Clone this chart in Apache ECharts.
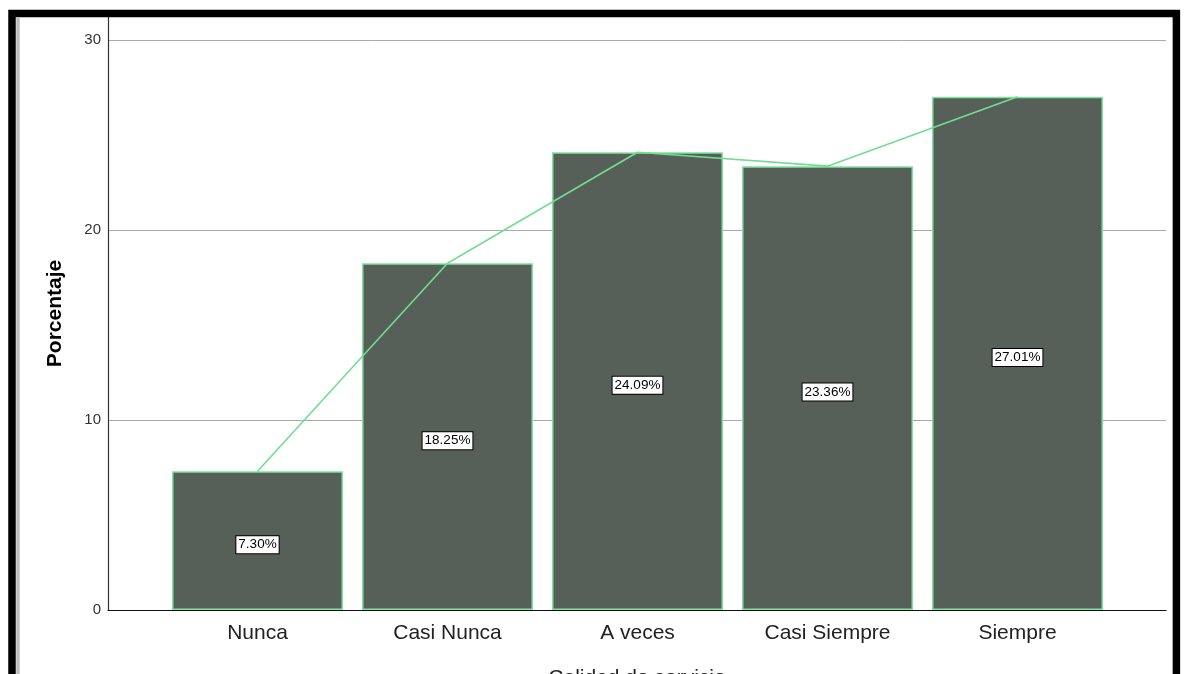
<!DOCTYPE html>
<html>
<head>
<meta charset="utf-8">
<style>
  html, body { margin: 0; padding: 0; background: #ffffff; }
  #chart { width: 1184px; height: 674px; }
</style>
<script src="https://cdn.jsdelivr.net/npm/echarts@6/dist/echarts.min.js"></script>
</head>
<body>
<div id="chart"></div>
<script>
// Response categories and their percentages
const categories = ['Nunca', 'Casi Nunca', 'A veces', 'Casi Siempre', 'Siempre'];
const percentages = [7.30, 18.25, 24.09, 23.36, 27.01];
const yTicks = [0, 10, 20, 30];

const FONT = '"Liberation Sans", Arial, sans-serif';
const chart = echarts.init(document.getElementById('chart'), null, { renderer: 'canvas' });

const option = {
  backgroundColor: '#ffffff',
  animation: false,
  grid: [
    // frame grid: full-height vertical axis line and the baseline
    { left: 108, right: 18, top: 17, bottom: 64, outerBoundsMode: 'none', containLabel: false },
    // value grid: tick labels and horizontal reference lines
    { left: 108, right: 18, top: 40, bottom: 64, outerBoundsMode: 'none', containLabel: false },
    // plotting grid for the bars and the connecting line
    { left: 162.5, width: 950, top: 40, bottom: 64, outerBoundsMode: 'none', containLabel: false }
  ],
  xAxis: [
    {
      gridIndex: 0, type: 'value', min: 0, max: 1,
      axisLine: { show: true, onZero: false, lineStyle: { color: '#111', width: 1.2 } },
      axisTick: { show: false }, axisLabel: { show: false }, splitLine: { show: false }
    },
    {
      gridIndex: 1, type: 'value', min: 0, max: 1,
      axisLine: { show: false }, axisTick: { show: false }, axisLabel: { show: false }, splitLine: { show: false },
      name: 'Calidad de servicio', nameLocation: 'middle', nameGap: 58,
      nameTextStyle: { fontFamily: FONT, fontSize: 21, color: '#222' }
    },
    {
      gridIndex: 2, type: 'category', data: categories,
      axisLine: { show: false }, axisTick: { show: false }, splitLine: { show: false },
      axisLabel: { fontFamily: FONT, fontSize: 21, color: '#222', margin: 13 }
    }
  ],
  yAxis: [
    {
      gridIndex: 0, type: 'value', min: 0, max: 31.2,
      axisLine: { show: true, lineStyle: { color: '#333', width: 1.2 } },
      axisTick: { show: false }, axisLabel: { show: false }, splitLine: { show: false },
      name: 'Porcentaje', nameLocation: 'middle', nameGap: 42,
      nameTextStyle: { fontFamily: FONT, fontSize: 21, fontWeight: 'bold', color: '#000' }
    },
    {
      gridIndex: 1, type: 'value', min: yTicks[0], max: yTicks[yTicks.length - 1], interval: 10,
      axisLine: { show: false }, axisTick: { show: false },
      axisLabel: { fontFamily: FONT, fontSize: 15, color: '#333', margin: 7 },
      splitLine: { show: true, showMinLine: false, lineStyle: { color: '#a9a9a9', width: 1 } }
    },
    {
      gridIndex: 2, type: 'value', min: yTicks[0], max: yTicks[yTicks.length - 1],
      show: false
    }
  ],
  series: [
    {
      type: 'bar',
      xAxisIndex: 2, yAxisIndex: 2,
      data: percentages,
      barWidth: 171,
      z: 3,
      itemStyle: { color: '#566059', borderColor: '#7fe2a0', borderWidth: 1.5 },
      label: {
        show: true,
        position: 'inside',
        offset: [0, 4],
        formatter: p => p.value.toFixed(2) + '%',
        fontFamily: FONT, fontSize: 13.5, color: '#000',
        backgroundColor: '#ffffff', borderColor: '#000', borderWidth: 1,
        padding: [2, 2, 1, 2]
      }
    },
    {
      type: 'line',
      xAxisIndex: 2, yAxisIndex: 2,
      data: percentages,
      z: 4,
      symbol: 'none',
      lineStyle: { color: '#72dd92', width: 1.6 }
    }
  ],
  graphic: [
    {
      type: 'rect', silent: true, z: 100,
      shape: { x: 12, y: 13.5, width: 1164.4, height: 700 },
      style: { fill: 'none', stroke: '#000', lineWidth: 7.5 }
    },
    {
      type: 'line', silent: true, z: 100,
      shape: { x1: 18, y1: 17, x2: 18, y2: 674 },
      style: { stroke: '#bdbdbd', lineWidth: 3.5 }
    }
  ]
};

chart.setOption(option);
</script>
</body>
</html>
